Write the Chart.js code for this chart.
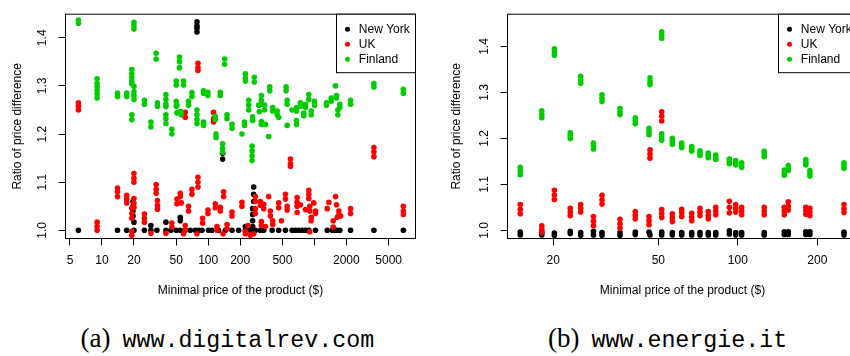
<!DOCTYPE html>
<html>
<head>
<meta charset="utf-8">
<script src="https://cdn.jsdelivr.net/npm/chart.js@4.4.0/dist/chart.umd.min.js"></script>
<style>
  html, body { margin: 0; padding: 0; background: #fff; }
  body { width: 850px; height: 356px; overflow: hidden; position: relative; }
  canvas { position: absolute; top: 0; }
  #c1 { left: 0; }
  #c2 { left: 425px; }
  .cap { position: absolute; top: 324.5px; white-space: nowrap; line-height: 1; color: #000; }
  .rm { font-family: "Liberation Serif", "DejaVu Serif", serif; font-size: 27px; }
  .tt { font-family: "Liberation Mono", "DejaVu Sans Mono", monospace; font-size: 23.3px; margin-left: 12px; }
</style>
</head>
<body>
<canvas id="c1" width="425" height="310"></canvas>
<canvas id="c2" width="445" height="310"></canvas>
<div class="cap" style="left:80.5px"><span class="rm">(a)</span><span class="tt">www.digitalrev.com</span></div>
<div class="cap" style="left:548px"><span class="rm">(b)</span><span class="tt">www.energie.it</span></div>
<script>
const seriesLabels = ["New York", "UK", "Finland"];
const seriesColors = ["#000000", "#ff0000", "#00cd00"];
const yTicks = [1.0, 1.1, 1.2, 1.3, 1.4];

// (a) www.digitalrev.com  -- [minimal price $, ratio]
const drTicks = [5, 10, 20, 50, 100, 200, 500, 1000, 2000, 5000];
const drTickLabels = ["5", "10", "20", "50", "100", "200", "500", "", "2000", "5000"];

const drNewYork = [
  [78.4,1.433],[78.4,1.425],[78.4,1.42],[78.4,1.412],
  [136.7,1.16],[136.7,1.148],
  [268,1.09],[268,1.075],[268,1.06],[262,1.045],[262,1.033],[262,1.02],[262,1.008],
  [54.6,1.027],[54.6,1.02],
  [19.6,1.06],[19.6,1.05],[19.6,1.04],[19.6,1.03],[20,1.017],
  [28.9,1.01],[40,1.017],[224,1.008],
  [6.0,1.0],[14.0,1.0],[17.1,1.0],[20,1.0],[25.1,1.0],[28.9,1.0],[32.9,1.0],[40,1.0],
  [44.6,1.0],[50,1.0],[54.6,1.0],[60.8,1.0],[67.8,1.0],[75.6,1.0],[81.1,1.0],[87.4,1.0],
  [100.8,1.0],[108.6,1.0],[125,1.0],[145,1.0],[167.7,1.0],[193.5,1.0],[224,1.0],[249.5,1.0],
  [278,1.0],[310,1.0],[333,1.0],[400,1.0],[461,1.0],[534,1.0],[617,1.0],[663,1.0],
  [713,1.0],[767,1.0],[824,1.0],[885,1.0],[1024,1.0],[1320,1.0],[1472,1.0],[1581,1.0],
  [1641,1.0],[1736,1.0],[2190,1.0],[3633,1.0],[6880,1.0]
];

const drUK = [
  [6.0,1.265],[6.0,1.258],[6.0,1.25],
  [80.1,1.347],[80.1,1.338],[80.1,1.332],
  [60.8,1.245],[60.8,1.235],
  [112.4,1.245],[112.4,1.232],[112.4,1.225],
  [595,1.148],[595,1.138],[595,1.133],
  [3633,1.172],[3633,1.163],[3633,1.153],
  [9.0,1.017],[9.0,1.008],[9.0,1.0],
  [14.0,1.088],[14.0,1.08],[14.0,1.07],
  [17.1,1.073],[17.1,1.065],[17.1,1.057],
  [20,1.118],[20,1.108],[20,1.1],
  [20,1.066],[20,1.056],[20,1.048],
  [19.1,1.046],[19.1,1.035],[19.1,1.025],
  [19.1,0.998],[19.1,0.99],
  [25.1,1.034],[25.1,1.025],[25.1,1.017],
  [28.9,0.994],
  [32.4,1.095],[32.4,1.085],[32.4,1.077],
  [33.3,1.062],[33.3,1.052],[33.3,1.044],
  [40,0.994],
  [45.5,1.015],[45.5,1.007],
  [50.8,1.065],[50.8,1.055],
  [54.6,1.077],[54.6,1.07],[55.7,1.057],
  [60.8,1.01],[60.8,1.0],[58.6,0.993],
  [65.3,1.05],[65.3,1.04],
  [70.3,1.085],[70.3,1.075],
  [80.1,1.11],[80.1,1.1],[80.1,1.09],
  [78.4,0.993],
  [88.6,1.025],[88.6,1.015],
  [99.5,1.042],[99.5,1.035],
  [116.7,1.055],[116.7,1.047],
  [130,1.048],[130,1.04],
  [121,1.008],[121,1.0],
  [139.7,1.08],[139.7,1.07],
  [150.5,1.012],[150.5,1.003],
  [137.9,0.993],
  [167.7,1.038],[167.7,1.03],
  [208,1.058],[208,1.05],
  [224,0.993],[224,0.998],[237,1.01],[249.5,0.99],
  [278,1.07],[278,1.06],[278,1.045],[278,1.035],
  [268,0.993],
  [310,1.06],[310,1.052],
  [333,1.054],[333,1.045],
  [317,1.018],[317,1.01],[346,1.008],
  [371,1.07],
  [385,1.04],[385,1.03],
  [405,1.02],[405,1.012],
  [461,1.057],[461,1.047],
  [489,1.02],
  [534,1.075],[534,1.065],
  [554,1.05],[554,1.042],
  [688,1.068],[688,1.058],[688,1.05],[688,1.037],
  [739,1.053],[824,1.043],
  [885,1.083],[885,1.075],[885,1.066],
  [905,1.05],[905,1.04],
  [933,1.027],[933,1.02],
  [905,0.997],
  [987,1.057],
  [1024,1.04],[1024,1.035],
  [1320,1.045],[1367,1.058],
  [1581,1.07],[1616,1.053],
  [1504,1.02],[1504,1.007],
  [1699,1.04],[1699,1.032],[1763,1.03],[1641,1.027],
  [2190,1.045],[2190,1.035],
  [6880,1.05],[6880,1.04],[6880,1.033]
];

const drFinland = [
  [6.0,1.437],[6.0,1.43],
  [20,1.432],[20,1.425],[20,1.418],
  [32.4,1.368],[32.4,1.356],
  [53.7,1.36],[53.7,1.35],[53.7,1.338],
  [9.0,1.315],[9.0,1.305],[9.0,1.298],
  [9.0,1.29],[9.0,1.283],[9.0,1.275],
  [19.1,1.334],[19.1,1.325],[19.1,1.318],[19.1,1.31],[19.1,1.304],
  [20,1.299],[20,1.288],[20,1.28],[20,1.272],
  [14.0,1.285],[14.0,1.278],
  [17.1,1.285],[17.1,1.278],
  [25.1,1.27],[25.1,1.262],
  [33.3,1.265],[33.3,1.258],
  [40,1.282],[40,1.272],[40,1.262],[40,1.257],
  [50,1.268],[50,1.258],[53.7,1.246],
  [50,1.31],[50,1.302],
  [19.1,1.24],[19.1,1.23],
  [28.9,1.225],[28.9,1.215],
  [40,1.24],[40,1.232],[40,1.222],
  [45.5,1.21],[45.5,1.2],
  [58.6,1.31],[58.6,1.302],
  [70.3,1.286],[70.3,1.278],
  [65.3,1.268],[65.3,1.26],
  [90.5,1.29],[90.5,1.285],
  [99.5,1.287],[99.5,1.28],
  [130,1.287],[130,1.28],
  [142.8,1.356],[142.8,1.345],
  [50.8,1.26],[50.8,1.244],
  [55.7,1.247],[55.7,1.24],
  [78.4,1.25],[78.4,1.24],[78.4,1.23],[78.4,1.222],
  [90.5,1.225],[90.5,1.218],
  [116.7,1.237],[116.7,1.23],
  [150.5,1.24],[150.5,1.232],
  [167.7,1.22],[167.7,1.212],
  [224,1.325],[224,1.316],[224,1.31],
  [272,1.318],[272,1.308],
  [240.5,1.27],[240.5,1.26],[240.5,1.25],
  [220,1.225],[220,1.218],
  [262,1.236],[262,1.228],
  [317,1.28],[317,1.27],[317,1.262],
  [299,1.26],[340,1.26],[340,1.25],
  [380,1.298],[380,1.29],
  [405,1.255],[405,1.248],
  [303,1.247],
  [317,1.226],[317,1.22],[346,1.22],
  [446,1.248],[446,1.24],[461,1.235],
  [542,1.298],[542,1.29],
  [554,1.27],[554,1.262],[554,1.218],
  [617,1.25],
  [678,1.255],[678,1.248],
  [678,1.228],[678,1.22],
  [739,1.265],[739,1.258],
  [824,1.262],[824,1.255],
  [885,1.282],[885,1.272],
  [794,1.243],[794,1.238],
  [933,1.248],[933,1.24],
  [1002,1.268],[1002,1.26],
  [1300,1.265],[1300,1.26],
  [1440,1.275],[1440,1.268],
  [1581,1.3],
  [1616,1.28],[1616,1.275],
  [1736,1.262],[1736,1.255],
  [1662,1.25],[1662,1.24],
  [2190,1.27],[2190,1.262],
  [3633,1.305],[3633,1.298],
  [6880,1.293],[6880,1.285],
  [118.5,1.2],[118.5,1.193],
  [136.7,1.18],[136.7,1.17],[136.7,1.162],
  [259,1.175],[259,1.165],[259,1.155],[259,1.145],
  [371,1.195],[208,1.2]
];

// (b) www.energie.it
const enTicks = [20, 50, 100, 200];
const enTickLabels = ["20", "50", "100", "200"];

const enNewYork = [
  [15.0,0.996],[15.0,0.99],[18.1,0.996],[18.1,0.99],[20.2,0.994],[20.2,0.989],
  [23.2,0.998],[23.2,0.993],[25.4,0.995],[25.4,0.989],[28.4,0.998],[28.4,0.99],
  [30.6,0.995],[30.6,0.989],[35.8,0.995],[35.8,0.989],[40.9,0.996],[40.9,0.991],
  [46.1,0.996],[46.5,0.99],[51.5,0.996],[51.5,0.99],[56.5,0.995],[56.5,0.99],
  [61.3,0.995],[61.3,0.99],[66.9,0.995],[66.9,0.99],[71.9,0.995],[71.9,0.99],
  [77.3,0.995],[77.3,0.99],[82.5,0.995],[82.5,0.99],[92.9,0.999],[92.9,0.992],
  [98.2,0.995],[98.2,0.99],[103.4,0.995],[103.4,0.99],[125.9,0.995],[125.9,0.99],
  [150,0.997],[150,0.991],[155.3,0.997],[155.3,0.991],[181,0.997],[181,0.991],
  [187.5,0.997],[187.5,0.991],[252.4,0.996],[252.4,0.99]
];

const enUK = [
  [15.0,1.056],[15.0,1.046],[15.0,1.036],
  [18.1,1.01],[18.1,1.002],[18.1,0.995],
  [20.2,1.087],[20.2,1.077],[20.2,1.067],
  [23.2,1.048],[23.2,1.04],[23.2,1.032],
  [25.4,1.056],[25.4,1.048],[25.4,1.04],
  [28.4,1.03],[28.4,1.02],[28.4,1.01],
  [30.6,1.076],[30.6,1.066],[30.6,1.057],
  [35.8,1.024],[35.8,1.014],[35.8,1.005],
  [40.9,1.041],[40.9,1.033],[40.9,1.025],
  [46.1,1.03],[46.1,1.021],[46.1,1.012],
  [46.5,1.175],[46.5,1.166],[46.5,1.157],
  [51.5,1.258],[51.5,1.248],[51.5,1.238],
  [51.5,1.045],[51.5,1.036],[51.5,1.028],
  [56.5,1.036],[56.5,1.027],[56.5,1.019],
  [61.3,1.046],[61.3,1.038],[61.3,1.03],
  [66.9,1.037],[66.9,1.029],[66.9,1.021],
  [71.9,1.048],[71.9,1.04],[71.9,1.032],
  [77.3,1.041],[77.3,1.033],[77.3,1.025],
  [82.5,1.05],[82.5,1.042],[82.5,1.034],
  [92.9,1.063],[92.9,1.05],[92.9,1.038],
  [98.2,1.056],[98.2,1.048],[98.2,1.04],
  [103.4,1.05],[103.4,1.042],[103.4,1.034],
  [125.9,1.05],[125.9,1.042],[125.9,1.034],
  [150,1.05],[150,1.042],[150,1.034],
  [155.3,1.062],[155.3,1.052],[155.3,1.044],
  [181,1.05],[181,1.043],[181,1.035],
  [187.5,1.048],[187.5,1.04],[187.5,1.032],
  [252.4,1.056],[252.4,1.047],[252.4,1.039]
];

const enFinland = [
  [15.0,1.137],[15.0,1.129],[15.0,1.121],
  [18.1,1.26],[18.1,1.252],[18.1,1.245],
  [20.2,1.395],[20.2,1.388],[20.2,1.381],
  [23.2,1.212],[23.2,1.206],[23.2,1.2],
  [25.4,1.335],[25.4,1.327],[25.4,1.32],
  [28.4,1.19],[28.4,1.184],[28.4,1.177],
  [30.6,1.295],[30.6,1.287],[30.6,1.28],
  [35.8,1.265],[35.8,1.258],[35.8,1.252],
  [40.9,1.245],[40.9,1.239],[40.9,1.232],
  [46.1,1.222],[46.1,1.215],[46.1,1.208],
  [46.5,1.332],[46.5,1.324],[46.5,1.317],
  [51.5,1.432],[51.5,1.425],[51.5,1.418],
  [51.5,1.21],[51.5,1.203],[51.5,1.196],
  [56.5,1.2],[56.5,1.193],[56.5,1.187],
  [61.3,1.19],[61.3,1.185],[61.3,1.18],
  [66.9,1.182],[66.9,1.177],[66.9,1.172],
  [71.9,1.173],[71.9,1.168],[71.9,1.163],
  [77.3,1.168],[77.3,1.163],[77.3,1.158],
  [82.5,1.164],[82.5,1.159],[82.5,1.154],
  [92.9,1.155],[92.9,1.15],[92.9,1.145],
  [98.2,1.152],[98.2,1.147],[98.2,1.142],
  [103.4,1.147],[103.4,1.142],[103.4,1.137],
  [125.9,1.172],[125.9,1.166],[125.9,1.16],
  [150,1.131],[150,1.126],[150,1.12],
  [155.3,1.141],[155.3,1.135],[155.3,1.13],
  [181,1.154],[181,1.148],[181,1.142],
  [187.5,1.13],[187.5,1.124],[187.5,1.118],
  [252.4,1.147],[252.4,1.141],[252.4,1.135]
];

Chart.defaults.font.family = '"Liberation Sans", Arial, sans-serif';
Chart.defaults.font.size = 12;
Chart.defaults.color = '#000';

// R style frame around the plot region + boxed legend in the top right corner
const boxAndLegend = {
  id: 'boxAndLegend',
  afterDraw(chart) {
    const { ctx, chartArea: a } = chart;
    ctx.save();
    ctx.strokeStyle = '#000';
    ctx.lineWidth = 1;
    ctx.strokeRect(a.left, a.top, a.right - a.left, a.bottom - a.top);
    const w = 79, h = 58.5, x0 = a.right - w, y0 = a.top;
    ctx.fillStyle = '#fff';
    ctx.fillRect(x0, y0, w, h);
    ctx.strokeRect(x0, y0, w, h);
    ctx.font = '12px "Liberation Sans", Arial, sans-serif';
    ctx.textBaseline = 'middle';
    chart.data.datasets.forEach((ds, i) => {
      const y = y0 + 15 + i * 15;
      ctx.fillStyle = ds.backgroundColor;
      ctx.beginPath();
      ctx.arc(x0 + 11, y, 2.5, 0, Math.PI * 2);
      ctx.fill();
      ctx.fillStyle = '#000';
      ctx.fillText(ds.label, x0 + 22.3, y);
    });
    ctx.restore();
  }
};

function makeChart(id, series, cfg) {
  return new Chart(document.getElementById(id), {
    type: 'scatter',
    data: {
      datasets: series.map((pts, i) => ({
        label: seriesLabels[i],
        data: pts.map(([x, y]) => ({ x, y })),
        backgroundColor: seriesColors[i],
        borderWidth: 0,
        pointRadius: 2.8,
        order: 3 - i
      }))
    },
    options: {
      responsive: false,
      animation: false,
      events: [],
      layout: { padding: { left: 0, top: 5.5, right: cfg.padRight, bottom: 0 } },
      plugins: { legend: { display: false }, tooltip: { enabled: false } },
      scales: {
        x: {
          type: 'logarithmic',
          min: cfg.xMin,
          max: cfg.xMax,
          afterBuildTicks: s => { s.ticks = cfg.xTicks.map(v => ({ value: v })); },
          afterFit: s => { s.height = 71.5; },
          grid: { drawOnChartArea: false, drawTicks: true, tickLength: 7, color: '#000' },
          border: { color: '#000' },
          ticks: {
            autoSkip: false, maxRotation: 0, padding: 8,
            callback: (v, i) => cfg.xTickLabels[i]
          },
          title: { display: true, text: 'Minimal price of the product ($)', padding: { top: 0, bottom: 12 } }
        },
        y: {
          min: cfg.yMin,
          max: cfg.yMax,
          afterBuildTicks: s => { s.ticks = yTicks.map(v => ({ value: v })); },
          afterFit: s => { s.width = cfg.yWidth; },
          grid: { drawOnChartArea: false, drawTicks: true, tickLength: 7, color: '#000' },
          border: { color: '#000' },
          ticks: {
            minRotation: 90, maxRotation: 90, crossAlign: 'center', padding: 7,
            callback: v => v.toFixed(1)
          },
          title: { display: true, text: 'Ratio of price difference', padding: { top: cfg.yTitlePad, bottom: 0 } }
        }
      }
    },
    plugins: [boxAndLegend]
  });
}

makeChart('c1', [drNewYork, drUK, drFinland], {
  xMin: 4.536, xMax: 8950, xTicks: drTicks, xTickLabels: drTickLabels,
  yMin: 0.983, yMax: 1.449, yWidth: 65.5, padRight: 9.5, yTitlePad: 10
});

makeChart('c2', [enNewYork, enUK, enFinland], {
  xMin: 13.42, xMax: 284, xTicks: enTicks, xTickLabels: enTickLabels,
  yMin: 0.9822, yMax: 1.4702, yWidth: 82.5, padRight: 12.5, yTitlePad: 24
});
</script>
</body>
</html>
